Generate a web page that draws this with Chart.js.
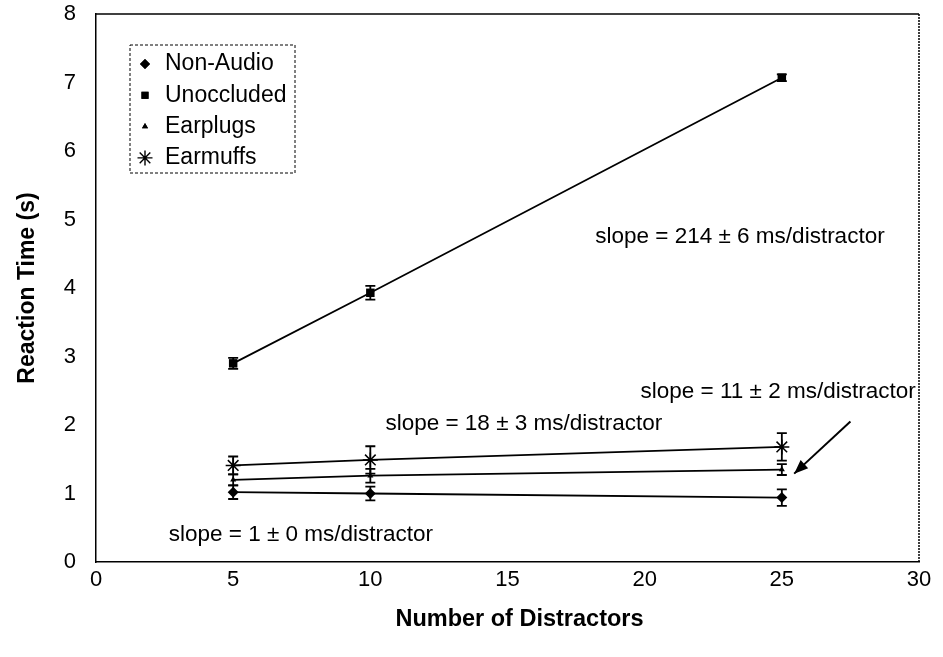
<!DOCTYPE html>
<html>
<head>
<meta charset="utf-8">
<script src="https://cdn.jsdelivr.net/npm/chart.js@4"></script>
<style>
  html, body { margin: 0; padding: 0; background: #fff; }
  #wrap { position: relative; width: 943px; height: 657px; }
</style>
</head>
<body>
<div id="wrap"><canvas id="rtChart" width="943" height="657"></canvas></div>
<script>
// values
const distractors = [5, 10, 25];
const nonAudio = [1.02, 1.0, 0.94];
const nonAudioErr = [0.1, 0.1, 0.12];
const unoccluded = [2.9, 3.93, 7.07];
const unoccludedErr = [0.08, 0.1, 0.05];
const earplugs = [1.2, 1.26, 1.35];
const earplugsErr = [0.08, 0.1, 0.08];
const earmuffs = [1.41, 1.49, 1.68];
const earmuffsErr = [0.13, 0.2, 0.2];

const xTicks = [0, 5, 10, 15, 20, 25, 30];
const yTicks = [0, 1, 2, 3, 4, 5, 6, 7, 8];

const slopeNotes = [
  { text: 'slope = 214 \u00b1 6 ms/distractor', x: 18.2, y: 4.75 },
  { text: 'slope = 11 \u00b1 2 ms/distractor', x: 19.85, y: 2.49 },
  { text: 'slope = 18 \u00b1 3 ms/distractor', x: 10.55, y: 2.02 },
  { text: 'slope = 1 \u00b1 0 ms/distractor', x: 2.65, y: 0.39 }
];
const arrowFrom = { x: 27.5, y: 2.05 };
const arrowTo = { x: 25.45, y: 1.29 };
const xTitle = 'Number of Distractors';

const FONT = '"Liberation Sans", Arial, sans-serif';

function pts(ys) {
  return distractors.map((x, i) => ({ x: x, y: ys[i] }));
}

function makeSet(label, ys, errs, style, radius) {
  return {
    label: label,
    data: pts(ys),
    errs: errs,
    showLine: true,
    borderColor: '#000',
    backgroundColor: '#000',
    borderWidth: 1.8,
    pointStyle: style,
    pointRadius: radius,
    pointBorderWidth: style === 'star' ? 1.5 : 0,
    pointBorderColor: '#000',
    pointBackgroundColor: '#000'
  };
}

const datasets = [
  makeSet('Non-Audio', nonAudio, nonAudioErr, 'rectRot', 5.5),
  makeSet('Unoccluded', unoccluded, unoccludedErr, 'rect', 6),
  makeSet('Earplugs', earplugs, earplugsErr, 'triangle', 3.5),
  makeSet('Earmuffs', earmuffs, earmuffsErr, 'star', 7.5)
];

// error bars, frame, slope notes, arrow, legend, x title
const extras = {
  id: 'extras',
  beforeDatasetsDraw(chart) {
    const ctx = chart.ctx;
    const xs = chart.scales.x, ys = chart.scales.y;
    ctx.save();
    ctx.strokeStyle = '#000';
    ctx.lineWidth = 1.8;
    chart.data.datasets.forEach(ds => {
      ds.data.forEach((p, i) => {
        const px = xs.getPixelForValue(p.x);
        const top = ys.getPixelForValue(p.y + ds.errs[i]);
        const bot = ys.getPixelForValue(p.y - ds.errs[i]);
        ctx.beginPath();
        ctx.moveTo(px, top); ctx.lineTo(px, bot);
        ctx.moveTo(px - 5, top); ctx.lineTo(px + 5, top);
        ctx.moveTo(px - 5, bot); ctx.lineTo(px + 5, bot);
        ctx.stroke();
      });
    });
    ctx.restore();
  },
  afterDraw(chart) {
    const ctx = chart.ctx;
    const a = chart.chartArea;
    const xs = chart.scales.x, ys = chart.scales.y;
    ctx.save();
    // frame top and right
    ctx.strokeStyle = '#000';
    ctx.lineWidth = 1.5;
    ctx.beginPath();
    ctx.moveTo(a.left, a.top); ctx.lineTo(a.right, a.top);
    ctx.stroke();
    ctx.setLineDash([2, 1]);
    ctx.beginPath();
    ctx.moveTo(a.right, a.top); ctx.lineTo(a.right, a.bottom);
    ctx.stroke();
    ctx.setLineDash([]);

    // slope notes
    ctx.fillStyle = '#000';
    ctx.font = '22.5px ' + FONT;
    ctx.textBaseline = 'middle';
    ctx.textAlign = 'left';
    slopeNotes.forEach(n => {
      ctx.fillText(n.text, xs.getPixelForValue(n.x), ys.getPixelForValue(n.y));
    });

    // arrow
    const x1 = xs.getPixelForValue(arrowFrom.x), y1 = ys.getPixelForValue(arrowFrom.y);
    const x2 = xs.getPixelForValue(arrowTo.x), y2 = ys.getPixelForValue(arrowTo.y);
    ctx.lineWidth = 2;
    ctx.beginPath();
    ctx.moveTo(x1, y1); ctx.lineTo(x2, y2);
    ctx.stroke();
    const ang = Math.atan2(y2 - y1, x2 - x1);
    ctx.beginPath();
    ctx.moveTo(x2, y2);
    ctx.lineTo(x2 - 15 * Math.cos(ang - 0.38), y2 - 15 * Math.sin(ang - 0.38));
    ctx.lineTo(x2 - 15 * Math.cos(ang + 0.38), y2 - 15 * Math.sin(ang + 0.38));
    ctx.closePath();
    ctx.fill();

    // legend box
    const lx = 130, ly = 45, lw = 165, lh = 128;
    ctx.lineWidth = 1;
    ctx.setLineDash([3, 2]);
    ctx.strokeRect(lx, ly, lw, lh);
    ctx.setLineDash([]);
    ctx.font = '23px ' + FONT;
    chart.data.datasets.forEach((ds, i) => {
      const cy = ly + 19 + i * 31.3;
      const r = ds.pointStyle === 'star' ? 7.5 : (ds.pointStyle === 'triangle' ? 3.5 : 5);
      ctx.lineWidth = 1.4;
      Chart.helpers.drawPoint(ctx, {
        pointStyle: ds.pointStyle, radius: r, rotation: 0,
        borderWidth: ds.pointStyle === 'star' ? 1.4 : 0
      }, lx + 15, cy);
      if (ds.pointStyle !== 'star') ctx.fill();
      ctx.fillText(ds.label, lx + 35, cy);
    });

    // x axis title, sits a little right of centre in the original
    ctx.font = 'bold 23.5px ' + FONT;
    ctx.textAlign = 'center';
    ctx.fillText(xTitle, (a.left + a.right) / 2 + 12, 620);
    ctx.restore();
  }
};

new Chart(document.getElementById('rtChart').getContext('2d'), {
  type: 'scatter',
  data: { datasets: datasets },
  options: {
    responsive: false,
    animation: false,
    layout: { padding: { top: 14, right: 24, left: 0, bottom: 0 } },
    plugins: { legend: { display: false }, tooltip: { enabled: false } },
    scales: {
      x: {
        type: 'linear',
        min: 0, max: 30,
        afterFit(s) { s.height = 95; s.paddingLeft = 0; s.paddingRight = 0; },
        afterBuildTicks(s) { s.ticks = xTicks.map(v => ({ value: v })); },
        grid: { display: false, drawTicks: true, tickLength: 5, tickColor: '#000' },
        border: { display: true, color: '#000', width: 1.5 },
        ticks: { color: '#000', font: { family: FONT, size: 22 }, padding: 0 },
        title: { display: false }
      },
      y: {
        type: 'linear',
        min: 0, max: 8,
        afterFit(s) { s.width = 96; s.paddingTop = 0; s.paddingBottom = 0; },
        afterBuildTicks(s) { s.ticks = yTicks.map(v => ({ value: v })); },
        grid: { display: false, drawTicks: true, tickLength: 6, tickColor: '#000' },
        border: { display: true, color: '#000', width: 1.5 },
        ticks: { color: '#000', font: { family: FONT, size: 22 }, padding: 14 },
        title: {
          display: true, text: 'Reaction Time (s)', color: '#000',
          font: { family: FONT, size: 23, weight: 'bold' }, padding: { top: 14, bottom: 4 }
        }
      }
    }
  },
  plugins: [extras]
});
</script>
</body>
</html>
